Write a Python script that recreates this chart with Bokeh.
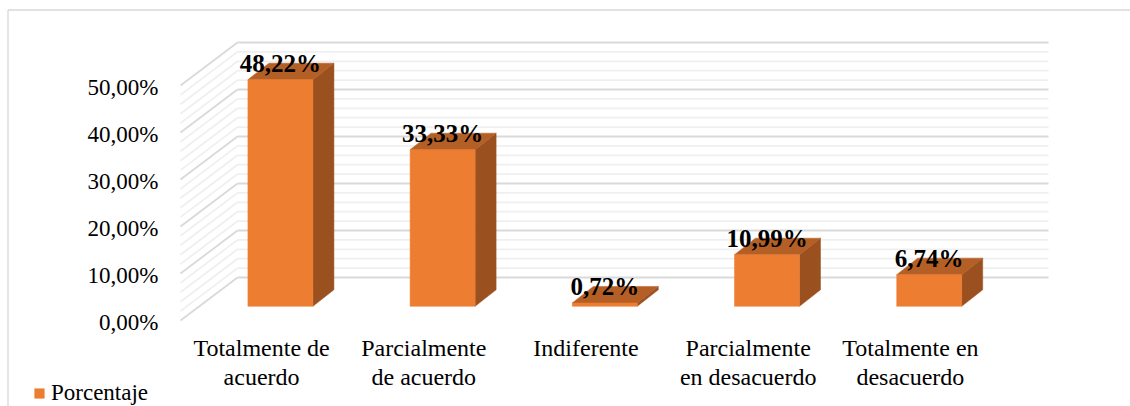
from bokeh.plotting import figure
from bokeh.models import ColumnDataSource, Legend, LegendItem
from bokeh.core.properties import value
from bokeh.embed import file_html
from bokeh.resources import INLINE

# ---------------- data ----------------
categories = ["Totalmente de\nacuerdo", "Parcialmente\nde acuerdo", "Indiferente",
              "Parcialmente\nen desacuerdo", "Totalmente en\ndesacuerdo"]
porcentaje = [48.22, 33.33, 0.72, 10.99, 6.74]
y_ticks = [0, 10, 20, 30, 40, 50]
y_tick_labels = ["0,00%", "10,00%", "20,00%", "30,00%", "40,00%", "50,00%"]
series_name = "Porcentaje"

# ---------------- geometry (pixels) ----------------
W, H = 1130, 406
origin_x_px, slot_px = 180.0, 162.2      # front floor left edge, px per category slot
origin_y_px, pct_px = 320.0, 4.7         # front 0% line, px per percent unit


def px_x(px):
    return (px - origin_x_px) / slot_px


def px_y(py):
    return (origin_y_px - py) / pct_px


DX = 57 / slot_px      # full floor depth (x)
DY = 43 / pct_px       # full floor depth (y)
F0 = 0.33              # bar front position within depth
BW = 65 / slot_px      # bar width
BDX = 21 / slot_px     # bar depth (x)
BDY = 16.5 / pct_px    # bar depth (y)

FONT = "Liberation Serif"
C_FRONT, C_TOP, C_SIDE = "#ED7D31", "#B45F25", "#9A501F"
n = len(categories)

p = figure(width=W, height=H, x_range=(px_x(0), px_x(W)), y_range=(px_y(H), px_y(0)),
           output_backend="svg", toolbar_location=None,
           x_axis_location=None, y_axis_location=None,
           min_border=0, min_border_left=0, min_border_right=0,
           min_border_top=0, min_border_bottom=0)
p.outline_line_color = None
p.grid.visible = False
p.background_fill_color = "white"
p.border_fill_color = "white"

# ---------------- chart area border (left / top) ----------------
p.segment(x0=[px_x(7.5), px_x(7.5)], y0=[px_y(9.5), px_y(9.5)],
          x1=[px_x(7.5), px_x(W + 5)], y1=[px_y(H + 5), px_y(9.5)],
          line_color="#D9D9D9", line_width=1.3)

# ---------------- walls / gridlines ----------------
levels = list(range(0, y_ticks[-1] + 1, 2))
for major in (False, True):
    xs, ys = [], []
    for lv in levels:
        if (lv % 10 == 0) != major:
            continue
        xs.append([DX, n + DX]); ys.append([lv + DY, lv + DY])
        xs.append([0, DX]); ys.append([lv, lv + DY])
    p.multi_line(xs, ys, line_color="#D9D9D9" if major else "#EFEFEF", line_width=1.8)

# ---------------- bars ----------------
fx0 = [i + 0.5 + F0 * DX - BW / 2 for i in range(n)]
fx1 = [x + BW for x in fx0]
fy0 = [F0 * DY] * n
fy1 = [F0 * DY + v for v in porcentaje]

top_xs = [[a, b, b + BDX, a + BDX] for a, b in zip(fx0, fx1)]
top_ys = [[t, t, t + BDY, t + BDY] for t in fy1]
side_xs = [[b, b + BDX, b + BDX, b] for b in fx1]
side_ys = [[y0, y0 + BDY, t + BDY, t] for y0, t in zip(fy0, fy1)]

p.patches(side_xs, side_ys, fill_color=C_SIDE, line_color=C_SIDE, line_width=0.5)
p.patches(top_xs, top_ys, fill_color=C_TOP, line_color=C_TOP, line_width=0.5)
front = p.quad(left=fx0, right=fx1, bottom=fy0, top=fy1,
               fill_color=C_FRONT, line_color=C_FRONT, line_width=0.5)

# ---------------- data labels ----------------
lab_src = ColumnDataSource(dict(
    x=[(a + b) / 2 for a, b in zip(fx0, fx1)],
    y=[t + BDY for t in fy1],
    text=[f"{v:.2f}".replace(".", ",") + "%" for v in porcentaje]))
p.text(x="x", y="y", text="text", source=lab_src, text_font=value(FONT),
       text_font_style="bold", text_font_size="25px", text_align="center",
       text_baseline="alphabetic", text_color="black")

# ---------------- value axis labels (front plane) ----------------
ytick_src = ColumnDataSource(dict(x=[px_x(158)] * len(y_ticks), y=y_ticks, text=y_tick_labels))
p.text(x="x", y="y", text="text", source=ytick_src, text_font=value(FONT),
       text_font_size="23px", text_align="right", text_baseline="middle",
       y_offset=2, text_color="black")

# ---------------- category axis labels ----------------
cat_src = ColumnDataSource(dict(x=[i + 0.5 for i in range(n)], y=[px_y(334)] * n, text=categories))
p.text(x="x", y="y", text="text", source=cat_src, text_font=value(FONT),
       text_font_size="24px", text_align="center", text_baseline="top",
       text_line_height=1.12, text_color="black")

# ---------------- legend ----------------
legend = Legend(items=[LegendItem(label=series_name, renderers=[front])],
                location=(33, 0), background_fill_alpha=0, border_line_color=None,
                padding=0, margin=0, glyph_width=12, glyph_height=12, label_standoff=6,
                label_height=24, label_text_font=FONT, label_text_font_size="23px",
                label_text_color="black", label_text_baseline="middle")
p.add_layout(legend)

open("out.html", "w").write(file_html(p, INLINE))
